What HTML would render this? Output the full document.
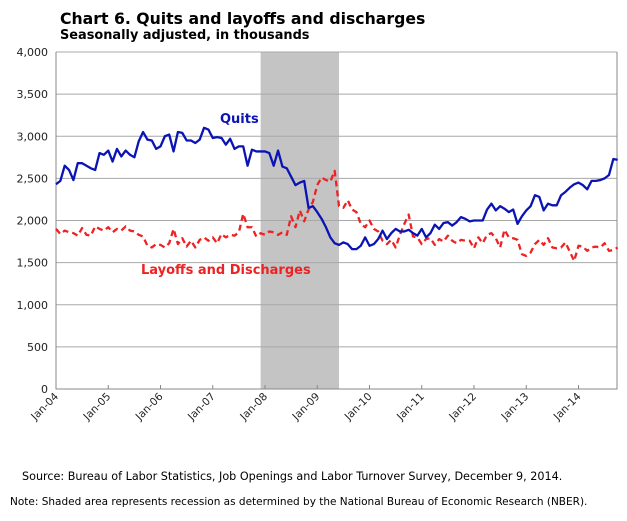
<!DOCTYPE html>
<html><head><meta charset="utf-8"><style>
body{margin:0;background:#fff;font-family:"DejaVu Sans","Liberation Sans",sans-serif;}
#wrap{position:relative;width:627px;height:521px;overflow:hidden}
.t{position:absolute;white-space:nowrap;color:#000}
</style></head><body><div id="wrap">
<div class="t" style="left:60px;top:9px;font:bold 15.7px 'DejaVu Sans',sans-serif">Chart 6. Quits and layoffs and discharges</div>
<div class="t" style="left:60px;top:28px;font:bold 12.9px 'DejaVu Sans',sans-serif">Seasonally adjusted, in thousands</div>
<svg id="c" width="627" height="521" style="position:absolute;left:0;top:0"></svg>
<div class="t" style="left:22px;top:470px;font-size:11.2px">Source: Bureau of Labor Statistics, Job Openings and Labor Turnover Survey, December 9, 2014.</div>
<div class="t" style="left:10px;top:496px;font-size:10.5px">Note: Shaded area represents recession as determined by the National Bureau of Economic Research (NBER).</div>
</div>
<script>
const yTicks=[0,500,1000,1500,2000,2500,3000,3500,4000];
const xLabels=["Jan-04","Jan-05","Jan-06","Jan-07","Jan-08","Jan-09","Jan-10","Jan-11","Jan-12","Jan-13","Jan-14"];
const recession=[47,65];
const quits=[2430,2470,2650,2600,2480,2680,2680,2650,2620,2600,2800,2780,
2830,2700,2850,2760,2830,2780,2750,2940,3050,2960,2950,2850,
2880,3000,3020,2820,3050,3040,2950,2950,2920,2960,3100,3080,
2980,2990,2980,2900,2970,2850,2880,2880,2650,2840,2820,2820,
2820,2800,2650,2830,2640,2620,2520,2420,2450,2470,2150,2170,
2100,2020,1920,1800,1730,1710,1740,1720,1660,1660,1700,1800,
1700,1720,1780,1880,1780,1850,1900,1870,1870,1890,1850,1820,
1900,1800,1850,1950,1900,1970,1980,1940,1980,2040,2020,1990,
2000,2000,2000,2130,2200,2120,2170,2140,2100,2130,1960,2050,
2120,2170,2300,2280,2120,2200,2180,2180,2300,2340,2390,2430,
2450,2420,2370,2470,2470,2480,2500,2540,2730,2720];
const layoffs=[1900,1840,1880,1860,1850,1820,1910,1830,1820,1930,1900,1880,
1920,1860,1900,1880,1930,1880,1870,1830,1810,1700,1680,1720,
1710,1680,1730,1900,1720,1790,1690,1760,1680,1770,1800,1760,
1800,1730,1840,1800,1830,1820,1860,2080,1920,1920,1810,1850,
1830,1870,1860,1830,1860,1830,2050,1920,2120,1990,2130,2220,
2420,2510,2480,2460,2590,2170,2150,2240,2130,2100,1960,1920,
2000,1900,1870,1760,1720,1770,1680,1830,1960,2070,1810,1800,
1720,1780,1790,1710,1780,1750,1820,1760,1730,1770,1760,1760,
1670,1800,1730,1830,1850,1790,1680,1890,1800,1790,1770,1600,
1580,1620,1720,1770,1710,1790,1680,1670,1680,1740,1630,1520,
1700,1690,1640,1680,1690,1680,1730,1640,1650,1680];
const L=56,R=617,T=52,B=389;
const x=i=>L+i*(578.5-L)/120;
const y=v=>B-v*(B-T)/4000;
const svg=document.getElementById('c');
const NS='http://www.w3.org/2000/svg';
function mk(t,a){const e=document.createElementNS(NS,t);for(const k in a)e.setAttribute(k,a[k]);svg.appendChild(e);return e;}
let r=mk('rect',{x:x(recession[0]),y:T,width:x(recession[1])-x(recession[0]),height:B-T,fill:'#c4c4c4'});


yTicks.forEach(v=>{
 if(v>0){let g=mk('line',{x1:L,x2:R,y1:y(v),y2:y(v),stroke:'#a8a8a8','stroke-width':1});
 
 }
 let t=mk('text',{x:48,y:y(v)+4,'text-anchor':'end','font-size':11,'font-family':'DejaVu Sans,sans-serif',fill:'#222'});
 t.textContent=v.toLocaleString('en-US');
 
 
});
let ax=mk('path',{d:`M${L},${T}V${B}H${R}V${T}`,fill:'none',stroke:'#888','stroke-width':1});


xLabels.forEach((s,k)=>{
 const xx=x(k*12);
 let tk=mk('line',{x1:xx,x2:xx,y1:B,y2:B-4,stroke:'#888'});
 
 
 let t=mk('text',{x:xx+3,y:B+8,'text-anchor':'end','font-size':10.5,'font-family':'DejaVu Sans,sans-serif',fill:'#222',transform:`rotate(-45 ${xx+3} ${B+8})`});
 t.textContent=s;
 
 
});
function line(arr,col,dash,name){
 const p=mk('polyline',{points:arr.map((v,i)=>x(i)+','+y(v)).join(' '),fill:'none',stroke:col,'stroke-width':2.3,'stroke-dasharray':dash,'stroke-linejoin':'round'});
 
 
}
line(layoffs,'#ee2222','6,4','layoffs-line');
line(quits,'#0a14b4','none','quits-line');
let q=mk('text',{x:220,y:123,'font-size':13,'font-weight':'bold','font-family':'DejaVu Sans,sans-serif',fill:'#0a14b4'});
q.textContent='Quits';


let l=mk('text',{x:141,y:274,'font-size':13,'font-weight':'bold','font-family':'DejaVu Sans,sans-serif',fill:'#ee2222'});
l.textContent='Layoffs and Discharges';


</script></body></html>
